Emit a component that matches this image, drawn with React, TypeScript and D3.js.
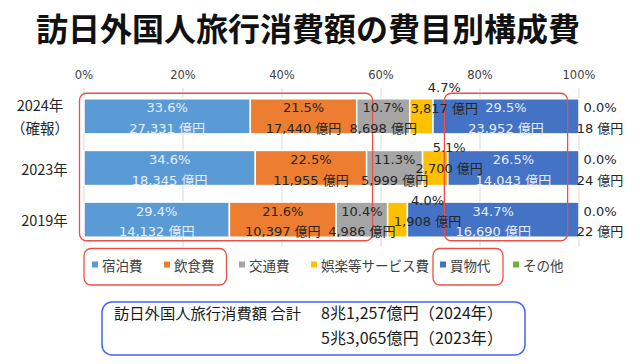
import React from 'react';
import * as d3 from 'd3';

const categories = ['2024年', '2023年', '2019年'];
const categorySubLabels = ['（確報）', '', ''];
const seriesNames = ['宿泊費', '飲食費', '交通費', '娯楽等サービス費', '買物代', 'その他'];
const seriesColors = ['#5B9BD5', '#ED7D31', '#A5A5A5', '#FFC000', '#4472C4', '#70AD47'];
const shares2024 = [33.6, 21.5, 10.7, 4.7, 29.5, 0.0];
const shares2023 = [34.6, 22.5, 11.3, 5.1, 26.5, 0.0];
const shares2019 = [29.4, 21.6, 10.4, 4.0, 34.7, 0.0];
const amounts2024 = [27331, 17440, 8698, 3817, 23952, 18];
const amounts2023 = [18345, 11955, 5999, 2700, 14043, 24];
const amounts2019 = [14132, 10397, 4986, 1908, 16690, 22];
const tickValues = [0, 20, 40, 60, 80, 100];
const titleText = '訪日外国人旅行消費額の費目別構成費';
const totalCaption = '訪日外国人旅行消費額 合計';
const totalLabels = ['8兆1,257億円（2024年）', '5兆3,065億円（2023年）'];

const sharesByRow = [shares2024, shares2023, shares2019];
const amountsByRow = [amounts2024, amounts2023, amounts2019];

const W = 640;
const H = 364;
const LATIN = '"DejaVu Sans", "Noto Sans CJK JP", sans-serif';
const CJK = '"Noto Sans CJK JP", "Noto Sans", sans-serif';
const RED = '#EE4F45';
const BLUE_BOX = '#4464F2';
const DARK = '#262626';
const LIGHT = '#E6EEF9';

// label nudges for the small yellow segment (per row)
const yellowDx = [23, 14, 30];
const yellowDy = [-11, -3, -2];

export default function App() {
  const x = d3.scaleLinear().domain([0, 100]).range([84, 579]);
  const y = d3
    .scaleBand<string>()
    .domain(categories)
    .range([90.5, 245.5])
    .paddingInner(0.32)
    .paddingOuter(0.16);
  const bh = y.bandwidth();
  const fmt = d3.format(',');

  const rows = categories.map((cat, ri) => {
    const shares = sharesByRow[ri];
    const total = d3.sum(shares);
    const cum = d3.cumsum(shares);
    const segs = shares.map((s, si) => {
      const x0 = x(((cum[si] - s) / total) * 100);
      const x1 = x((cum[si] / total) * 100);
      return { si, s, x0, x1, amount: amountsByRow[ri][si] };
    });
    return { cat, ri, top: y(cat) as number, segs };
  });

  const gridTop = 88;
  const gridBottom = 247;

  const topRow = y(categories[0]) as number;
  const bottomRow = (y(categories[categories.length - 1]) as number) + bh;
  const ann1 = { x0: x(0) - 4.5, x1: x(58) + 1.5 };
  const ann2 = { x0: x(72.8), x1: x(97.7) };

  const legendX = [95, 167, 242, 314, 443, 516];
  const legendY = 265;

  return (
    <svg
      width={W}
      height={H}
      viewBox={`0 0 ${W} ${H}`}
      style={{ position: 'absolute', left: 0, top: 0, background: '#fff' }}
    >
      <rect x={0} y={0} width={W} height={H} fill="#fff" />
      <text
        x={36}
        y={27}
        fontFamily={CJK}
        fontWeight={700}
        fontSize={32}
        fill="#111"
        dominantBaseline="central"
      >
        {titleText}
      </text>

      {/* axis tick labels + grid */}
      {tickValues.map((t) => (
        <g key={t}>
          <line x1={x(t)} x2={x(t)} y1={gridTop} y2={gridBottom} stroke="#D9D9D9" strokeWidth={1} />
          <text
            x={x(t)}
            y={75}
            textAnchor="middle"
            dominantBaseline="central"
            fontFamily={LATIN}
            fontSize={11.5}
            fill="#404040"
          >
            {t}%
          </text>
        </g>
      ))}

      {/* category labels */}
      {rows.map((r) => {
        const c = r.top + bh / 2;
        const sub = categorySubLabels[r.ri];
        return sub ? (
          <g key={r.cat}>
            <text x={40} y={c - 11.5} textAnchor="middle" dominantBaseline="central" fontFamily={CJK} fontSize={14.5} fill={DARK}>
              {r.cat}
            </text>
            <text x={40} y={c + 11.5} textAnchor="middle" dominantBaseline="central" fontFamily={CJK} fontSize={14.5} fill={DARK}>
              {sub}
            </text>
          </g>
        ) : (
          <text key={r.cat} x={44.5} y={c} textAnchor="middle" dominantBaseline="central" fontFamily={CJK} fontSize={14.5} fill={DARK}>
            {r.cat}
          </text>
        );
      })}

      {/* bars */}
      {rows.map((r) =>
        r.segs.map((sg) => (
          <rect
            key={`${r.cat}-${sg.si}`}
            x={sg.x0}
            y={r.top}
            width={Math.max(0, sg.x1 - sg.x0)}
            height={bh}
            fill={seriesColors[sg.si]}
            stroke="#fff"
            strokeWidth={sg.s > 0 ? 1.5 : 0}
          />
        ))
      )}

      {/* annotation boxes over the plot */}
      <rect x={ann1.x0} y={topRow - 5.5} width={ann1.x1 - ann1.x0} height={bottomRow - topRow + 9} rx={7} fill="none" stroke={RED} strokeWidth={1.3} />
      <rect x={ann2.x0} y={topRow - 5.5} width={ann2.x1 - ann2.x0} height={bottomRow - topRow + 9} rx={7} fill="none" stroke={RED} strokeWidth={1.3} />

      {/* labels */}
      {rows.map((r) =>
        r.segs.map((sg) => {
          const c = r.top + bh / 2;
          const pct = `${sg.s.toFixed(1)}%`;
          const amt = `${fmt(sg.amount)} 億円`;
          let cx = (sg.x0 + sg.x1) / 2;
          let y1 = c - 8.5;
          let y2 = c + 12;
          let fill = sg.si === 0 || sg.si === 4 ? LIGHT : DARK;
          if (sg.si === 3) {
            cx += yellowDx[r.ri];
            y1 = r.top + yellowDy[r.ri];
            y2 = y1 + 21;
            fill = DARK;
          } else if (sg.si === 5) {
            cx = sg.x1 + 21;
            fill = DARK;
          }
          return (
            <g key={`l-${r.cat}-${sg.si}`} fontFamily={LATIN} fontSize={13} fill={fill} textAnchor="middle">
              <text x={cx} y={y1} dominantBaseline="central">{pct}</text>
              <text x={cx} y={y2} dominantBaseline="central">{amt}</text>
            </g>
          );
        })
      )}

      {/* legend */}
      {seriesNames.map((n, i) => (
        <g key={n}>
          <rect x={legendX[i] - 3} y={legendY - 3.5} width={6} height={6} fill={seriesColors[i]} />
          <text x={legendX[i] + 7} y={legendY} dominantBaseline="central" fontFamily={CJK} fontSize={13.5} fill="#404040">
            {n}
          </text>
        </g>
      ))}
      <rect x={84} y={248.5} width={142.5} height={36.5} rx={7} fill="none" stroke={RED} strokeWidth={1.3} />
      <rect x={433} y={248.5} width={70} height={36.5} rx={7} fill="none" stroke={RED} strokeWidth={1.3} />

      {/* totals box */}
      <rect x={102} y={302} width={423} height={53} rx={10} fill="#fff" stroke={BLUE_BOX} strokeWidth={1.5} />
      <text x={114} y={312} dominantBaseline="central" fontFamily={CJK} fontSize={15.3} fill="#1a1a1a">
        {totalCaption}
      </text>
      {totalLabels.map((t, i) => (
        <text
          key={t}
          x={321}
          y={312 + i * 25}
          dominantBaseline="central"
          fontFamily={CJK}
          fontSize={16}
          fill="#1a1a1a"
          textLength={182}
          lengthAdjust="spacing"
        >
          {t}
        </text>
      ))}
    </svg>
  );
}
